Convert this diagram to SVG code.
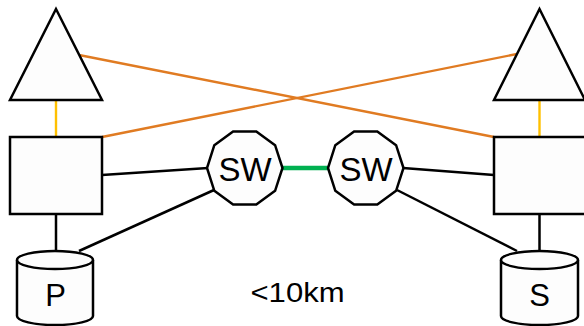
<svg xmlns="http://www.w3.org/2000/svg" width="584" height="326" viewBox="0 0 584 326">
  <style>
    .shape { fill: #fdfdfd; stroke: #000; stroke-width: 2.5; stroke-linejoin: miter; }
    .link { stroke: #000; stroke-width: 2.5; fill: none; }
    .wan { stroke: #e07b22; stroke-width: 2.4; fill: none; }
    .up { stroke: #ffc000; stroke-width: 2.4; fill: none; }
    .isl { stroke: #00b050; stroke-width: 4.5; fill: none; }
    .lbl { font-family: "Liberation Sans", Arial, sans-serif; fill: #000; text-anchor: middle; }
  </style>

  <!-- connectors -->
  <g id="connectors">
    <line class="wan" x1="79" y1="55" x2="494" y2="137"/>
    <line class="wan" x1="102" y1="137" x2="517" y2="54"/>
    <line class="up" x1="56" y1="100" x2="56" y2="137"/>
    <line class="up" x1="539.5" y1="100" x2="539.5" y2="137"/>
    <line class="link" x1="102" y1="175" x2="208" y2="168"/>
    <line class="link" x1="79" y1="251" x2="214" y2="190"/>
    <line class="link" x1="56" y1="214" x2="56" y2="251"/>
    <line class="link" x1="494" y1="175" x2="403" y2="168"/>
    <line class="link" x1="517" y1="251" x2="397" y2="190"/>
    <line class="link" x1="539.5" y1="214" x2="539.5" y2="251"/>
    <line class="isl" x1="282" y1="168" x2="328" y2="168"/>
  </g>

  <!-- left site -->
  <g id="router-left">
    <polygon class="shape" points="56,9 102,100 10,100"/>
  </g>
  <g id="server-left">
    <rect class="shape" x="10" y="137" width="92" height="77"/>
  </g>
  <g id="disk-p">
    <path class="shape" d="M17,260 A38,9 0 0 1 93,260 L93,316 A38,9 0 0 1 17,316 Z"/>
    <path class="shape" d="M17,260 A38,9 0 0 0 93,260" fill="none"/>
    <text class="lbl" x="55.5" y="305.5" font-size="31">P</text>
  </g>

  <!-- right site -->
  <g id="router-right">
    <polygon class="shape" points="539.5,9 585,100 494,100"/>
  </g>
  <g id="server-right">
    <rect class="shape" x="494" y="137" width="92" height="77"/>
  </g>
  <g id="disk-s">
    <path class="shape" d="M501,260 A38.5,9 0 0 1 578,260 L578,316 A38.5,9 0 0 1 501,316 Z"/>
    <path class="shape" d="M501,260 A38.5,9 0 0 0 578,260" fill="none"/>
    <text class="lbl" x="539.5" y="305.5" font-size="31">S</text>
  </g>

  <!-- switches -->
  <g id="switch-left">
    <polygon class="shape" points="282.5,168 275.1,145.2 256.3,131.5 233.1,131.5 214.3,145.2 207,168 214.3,190.8 233.1,204.5 256.3,204.5 275.1,190.8"/>
    <text class="lbl" x="245" y="181" font-size="33">SW</text>
  </g>
  <g id="switch-right">
    <polygon class="shape" points="403.5,168 396.1,145.2 377.3,131.5 354.1,131.5 335.3,145.2 328,168 335.3,190.8 354.1,204.5 377.3,204.5 396.1,190.8"/>
    <text class="lbl" x="366" y="181" font-size="33">SW</text>
  </g>

  <text class="lbl" x="297.5" y="302" font-size="27" textLength="94" lengthAdjust="spacingAndGlyphs">&lt;10km</text>
</svg>
